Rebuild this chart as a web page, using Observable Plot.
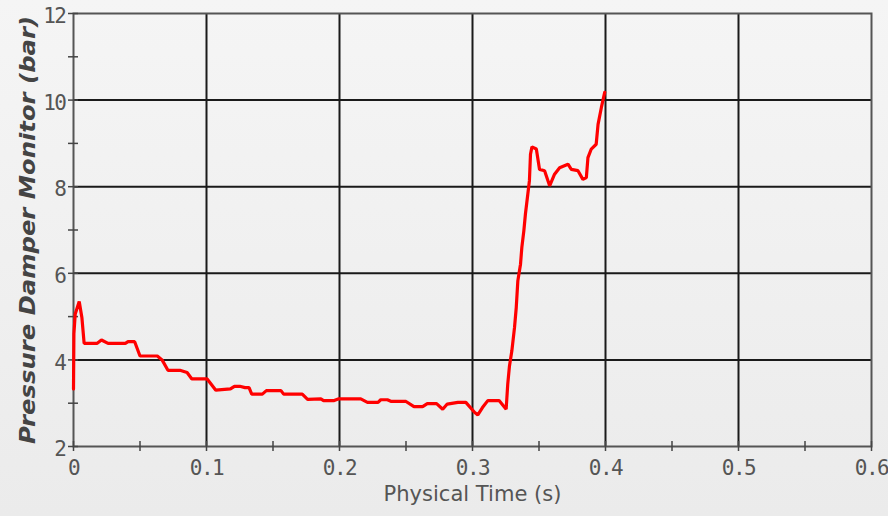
<!DOCTYPE html>
<html>
<head>
<meta charset="utf-8">
<script src="https://cdn.jsdelivr.net/npm/d3@7"></script>
<script src="https://cdn.jsdelivr.net/npm/@observablehq/plot@0.6"></script>
<style>
  html, body { margin: 0; padding: 0; }
  body { width: 888px; height: 516px; background: linear-gradient(to bottom, #f5f5f5, #ebebeb); overflow: hidden; }
  svg { display: block; }
</style>
</head>
<body>
<div id="chart"></div>
<script>
// Physical time (s)
const time = [0, 0.0003, 0.0013, 0.0043, 0.0063, 0.0080, 0.0176, 0.0210, 0.0260, 0.0390, 0.0410, 0.0460, 0.0500, 0.0630, 0.0666, 0.0710, 0.0800, 0.0854, 0.0890, 0.1005, 0.1070, 0.1180, 0.1210, 0.1250, 0.1290, 0.1320, 0.1340, 0.1420, 0.1450, 0.1560, 0.1580, 0.1720, 0.1760, 0.1860, 0.1880, 0.1960, 0.1995, 0.2160, 0.2210, 0.2290, 0.2310, 0.2360, 0.2390, 0.2500, 0.2560, 0.2625, 0.2660, 0.2730, 0.2776, 0.2810, 0.2890, 0.2950, 0.3015, 0.3040, 0.3075, 0.3115, 0.3200, 0.3253, 0.3265, 0.3278, 0.3296, 0.3316, 0.3329, 0.3341, 0.3361, 0.3371, 0.3386, 0.3398, 0.3416, 0.3428, 0.3436, 0.3447, 0.3480, 0.3504, 0.3542, 0.3580, 0.3617, 0.3655, 0.3718, 0.3743, 0.3793, 0.3830, 0.3856, 0.3868, 0.3893, 0.3930, 0.3944, 0.3969, 0.3994];
// Pressure Damper Monitor (bar)
const pressure = [3.33, 4.60, 5.06, 5.35, 4.98, 4.38, 4.38, 4.46, 4.38, 4.38, 4.42, 4.42, 4.09, 4.09, 4.00, 3.76, 3.76, 3.71, 3.56, 3.56, 3.30, 3.33, 3.39, 3.39, 3.36, 3.36, 3.21, 3.21, 3.29, 3.29, 3.21, 3.21, 3.09, 3.10, 3.06, 3.06, 3.10, 3.10, 3.02, 3.02, 3.08, 3.08, 3.04, 3.04, 2.92, 2.92, 2.99, 2.99, 2.86, 2.98, 3.02, 3.02, 2.79, 2.73, 2.90, 3.06, 3.06, 2.86, 3.44, 3.86, 4.21, 4.75, 5.21, 5.83, 6.21, 6.60, 6.98, 7.37, 7.83, 8.14, 8.75, 8.92, 8.87, 8.40, 8.37, 8.02, 8.29, 8.44, 8.52, 8.40, 8.37, 8.17, 8.21, 8.67, 8.87, 8.98, 9.44, 9.83, 10.18];

const xMajor = [0, 0.1, 0.2, 0.3, 0.4, 0.5, 0.6];
const xMinor = [0.05, 0.15, 0.25, 0.35, 0.45, 0.55];
const xGrid = [0.1, 0.2, 0.3, 0.4, 0.5];
const yMajor = [2, 4, 6, 8, 10, 12];
const yMinor = [3, 5, 7, 9, 11];
const yGrid = [4, 6, 8, 10];
const xTitle = "Physical Time (s)";
const yTitle = "Pressure Damper Monitor (bar)";

const data = time.map((t, i) => ({t, p: pressure[i]}));

const chart = Plot.plot({
  width: 888,
  height: 516,
  marginLeft: 73,
  marginRight: 17,
  marginTop: 13,
  marginBottom: 70,
  style: {background: "transparent", fontFamily: "DejaVu Sans Mono", fontSize: "21px", color: "#555", overflow: "visible"},
  x: {domain: [0, 0.6]},
  y: {domain: [2, 12]},
  marks: [
    Plot.gridX(xGrid, {stroke: "#1a1a1a", strokeOpacity: 1, strokeWidth: 2}),
    Plot.gridY(yGrid, {stroke: "#1a1a1a", strokeOpacity: 1, strokeWidth: 2}),
    Plot.frame({stroke: "#555", strokeWidth: 2}),
    Plot.axisX(xMajor, {tickSize: 0, tickPadding: 14, tickFormat: d => String(d), fill: "#555", fontSize: 21, label: null}),
    Plot.axisX(xMinor, {tickSize: 10, dy: -5, text: null, stroke: "#444", strokeWidth: 1.5, label: null}),
    Plot.axisY(yMajor, {tickSize: 0, tickPadding: 8, dy: 3, tickFormat: d => String(d), fill: "#555", fontSize: 21, label: null}),
    Plot.axisY([...yMajor, ...yMinor], {tickSize: 10, dx: 5, text: null, stroke: "#444", strokeWidth: 1.5, label: null}),
    Plot.axisX(xMajor, {tickSize: 10, dy: -5, text: null, stroke: "#444", strokeWidth: 1.5, label: null}),
    Plot.line(data, {x: "t", y: "p", stroke: "#ff0000", strokeWidth: 3.2, strokeLinejoin: "miter"}),
    Plot.text([xTitle], {frameAnchor: "bottom", dy: 54, text: d => d, fill: "#555", fontSize: 22, fontFamily: "DejaVu Sans"}),
    Plot.text([yTitle], {frameAnchor: "left", textAnchor: "middle", dx: -45, rotate: -90, text: d => d, fill: "#444", fontSize: 21, fontWeight: "bold", fontStyle: "italic", fontFamily: "DejaVu Sans"})
  ]
});
document.getElementById("chart").appendChild(chart);
const texts = d3.select(chart).selectAll("text");
texts.filter(function() { return this.textContent === xTitle; })
  .attr("textLength", 178).attr("lengthAdjust", "spacingAndGlyphs");
texts.filter(function() { return this.textContent === yTitle; })
  .attr("textLength", 428).attr("lengthAdjust", "spacingAndGlyphs");
texts.filter(function() { return /^[0-9.]+$/.test(this.textContent); })
  .attr("letter-spacing", "-1.5px");
</script>
</body>
</html>
